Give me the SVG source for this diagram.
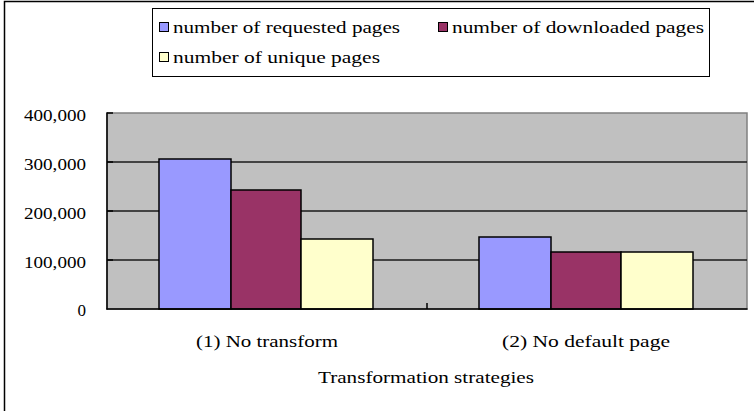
<svg xmlns="http://www.w3.org/2000/svg" width="754" height="411" viewBox="0 0 754 411">
  <style>
    .t { font-family: "Liberation Serif", "Times New Roman", serif; font-size: 17px; fill: #000; }
    .grid { stroke: #1a1a1a; stroke-width: 1.5; }
    .bar { stroke: #000; stroke-width: 1.5; }
    .s1 { fill: #9999FF; }
    .s2 { fill: #993366; }
    .s3 { fill: #FFFFCC; }
    .key { stroke: #000; stroke-width: 1; }
  </style>

  <!-- chart frame -->
  <rect x="4.5" y="1.5" width="800" height="500" fill="#fff" stroke="#000" stroke-width="1.5"/>

  <!-- legend -->
  <g id="legend">
    <rect x="152.5" y="8.5" width="557" height="68" fill="#fff" stroke="#000" stroke-width="1"/>
    <rect class="key s1" x="159.5" y="22.5" width="9" height="9"/>
    <text class="t" x="173" y="33" textLength="227" lengthAdjust="spacingAndGlyphs">number of requested pages</text>
    <rect class="key s2" x="438.5" y="22.5" width="9" height="9"/>
    <text class="t" x="452" y="33" textLength="252" lengthAdjust="spacingAndGlyphs">number of downloaded pages</text>
    <rect class="key s3" x="159.5" y="52.5" width="9" height="9"/>
    <text class="t" x="173" y="63" textLength="207" lengthAdjust="spacingAndGlyphs">number of unique pages</text>
  </g>

  <!-- plot area and gridlines -->
  <g id="plot">
    <rect x="107" y="113" width="640" height="196" fill="#C0C0C0" stroke="#808080" stroke-width="1.5"/>
    <line class="grid" x1="107" y1="162" x2="747" y2="162"/>
    <line class="grid" x1="107" y1="211" x2="747" y2="211"/>
    <line class="grid" x1="107" y1="260" x2="747" y2="260"/>
  </g>

  <!-- bars: (1) No transform -->
  <g id="group1">
    <rect class="bar s1" x="159" y="159" width="72" height="150"/>
    <rect class="bar s2" x="231" y="190" width="70" height="119"/>
    <rect class="bar s3" x="301" y="239" width="72" height="70"/>
  </g>

  <!-- bars: (2) No default page -->
  <g id="group2">
    <rect class="bar s1" x="479" y="237" width="72" height="72"/>
    <rect class="bar s2" x="551" y="252" width="70" height="57"/>
    <rect class="bar s3" x="621" y="252" width="72" height="57"/>
  </g>

  <!-- axes and ticks -->
  <g id="axes" stroke="#000" stroke-width="1.5">
    <line x1="107" y1="112.5" x2="107" y2="309.5"/>
    <line x1="106.5" y1="309" x2="747.5" y2="309"/>
    <line x1="107" y1="113" x2="113" y2="113"/>
    <line x1="107" y1="162" x2="113" y2="162"/>
    <line x1="107" y1="211" x2="113" y2="211"/>
    <line x1="107" y1="260" x2="113" y2="260"/>
    <line x1="427" y1="309" x2="427" y2="303"/>
  </g>

  <!-- value axis labels -->
  <g id="yaxis-labels" text-anchor="end">
    <text class="t" x="86" y="121" textLength="62" lengthAdjust="spacingAndGlyphs">400,000</text>
    <text class="t" x="86" y="170" textLength="62" lengthAdjust="spacingAndGlyphs">300,000</text>
    <text class="t" x="86" y="219" textLength="62" lengthAdjust="spacingAndGlyphs">200,000</text>
    <text class="t" x="86" y="268" textLength="62" lengthAdjust="spacingAndGlyphs">100,000</text>
    <text class="t" x="86" y="316">0</text>
  </g>

  <!-- category axis labels and title -->
  <g id="xaxis-labels" text-anchor="middle">
    <text class="t" x="267" y="347" textLength="142" lengthAdjust="spacingAndGlyphs">(1) No transform</text>
    <text class="t" x="586" y="347" textLength="168" lengthAdjust="spacingAndGlyphs">(2) No default page</text>
    <text class="t" x="426" y="383" textLength="216" lengthAdjust="spacingAndGlyphs">Transformation strategies</text>
  </g>
</svg>
